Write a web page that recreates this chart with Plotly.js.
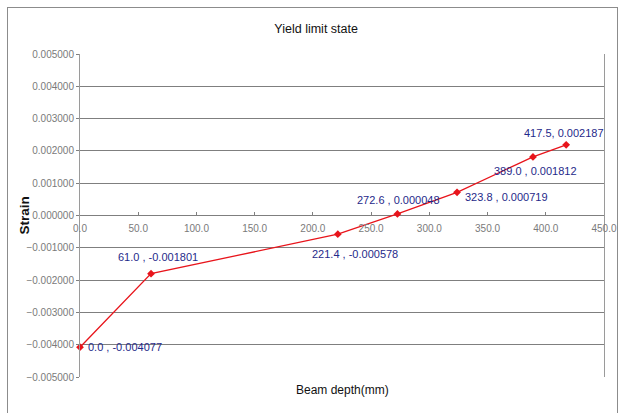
<!DOCTYPE html>
<html>
<head>
<meta charset="utf-8">
<script src="https://cdn.plot.ly/plotly-3.0.1.min.js"></script>
<style>
  html, body { margin: 0; padding: 0; background: #fff; width: 620px; height: 413px; overflow: hidden; }
  #frame { position: absolute; left: 7px; top: 7px; width: 609px; height: 420px; border: 1px solid #8c8c8c; background: #fff; }
  #chart { width: 609px; height: 420px; }
</style>
</head>
<body>
<div id="frame"><div id="chart"></div></div>
<script>
const beamDepth = [0.0, 61.0, 221.4, 272.6, 323.8, 389.0, 417.5];
const strain = [-0.004077, -0.001801, -0.000578, 0.000048, 0.000719, 0.001812, 0.002187];
const pointLabels = ['0.0 , -0.004077', '61.0 , -0.001801', '221.4 , -0.000578', '272.6 , 0.000048', '323.8 , 0.000719', '389.0 , 0.001812', '417.5, 0.002187'];
const chartTitle = 'Yield limit state';
const xTitle = 'Beam depth(mm)';
const yTitle = 'Strain';

// label placement (style only): anchor and pixel offsets from each point
const labelAnchor = ['left', 'center', 'center', 'center', 'left', 'center', 'center'];
const labelDx = [6, 7, 17, 1, 6, 3, -2];
const labelDy = [0, 17, -20, 14, -5, -14, 12];

const font = "'Liberation Sans', Arial, sans-serif";

const trace = {
  x: beamDepth,
  y: strain,
  mode: 'lines+markers',
  type: 'scatter',
  line: { color: '#e8141b', width: 1.3 },
  marker: { color: '#e8141b', size: 6, symbol: 'diamond' },
  cliponaxis: false,
  hoverinfo: 'x+y'
};

const labelAnnotations = beamDepth.map((xv, i) => ({
  x: xv, y: strain[i], xref: 'x', yref: 'y',
  text: pointLabels[i], showarrow: false,
  xanchor: labelAnchor[i], yanchor: 'middle',
  xshift: labelDx[i], yshift: labelDy[i],
  font: { family: font, size: 11, color: '#1f2a8a' }
}));

const layout = {
  width: 609,
  height: 420,
  margin: { l: 72, r: 13, t: 46, b: 51 },
  paper_bgcolor: '#ffffff',
  plot_bgcolor: '#ffffff',
  showlegend: false,
  title: { text: chartTitle, xref: 'container', yref: 'container', x: 0.506, xanchor: 'center', y: 0.95, yanchor: 'middle', font: { family: font, size: 12.5, color: '#111' } },
  xaxis: {
    range: [0, 450.0001],
    dtick: 50,
    tick0: 0,
    tickformat: '.1f',
    anchor: 'free',
    position: 0.5,
    showgrid: false,
    zeroline: false,
    showline: false,
    ticks: 'inside',
    ticklen: 4,
    tickcolor: '#808080',
    ticklabelstandoff: 5,
    tickfont: { family: font, size: 10, color: '#7a7a7a' }
  },
  yaxis: {
    range: [-0.005, 0.005],
    dtick: 0.001,
    tick0: 0,
    tickformat: '.6f',
    showgrid: true,
    gridcolor: '#7f7f7f',
    gridwidth: 1,
    zeroline: true,
    zerolinecolor: '#7f7f7f',
    zerolinewidth: 1,
    showline: true,
    linecolor: '#9a9a9a',
    linewidth: 1,
    mirror: true,
    ticks: 'outside',
    ticklen: 3,
    tickcolor: '#808080',
    tickfont: { family: font, size: 10, color: '#7a7a7a' }
  },
  annotations: labelAnnotations.concat([
    { text: xTitle, xref: 'paper', yref: 'paper', x: 0.5, y: 0, yshift: -13, xanchor: 'center', yanchor: 'middle', showarrow: false, font: { family: font, size: 12, color: '#111' } },
    { text: yTitle, xref: 'paper', yref: 'paper', x: 0, xshift: -56, y: 0.5, xanchor: 'center', yanchor: 'middle', textangle: -90, showarrow: false, font: { family: font, size: 13.5, color: '#111', weight: 'bold' } }
  ])
};

Plotly.newPlot('chart', [trace], layout, { displayModeBar: false, staticPlot: true });
</script>
</body>
</html>
